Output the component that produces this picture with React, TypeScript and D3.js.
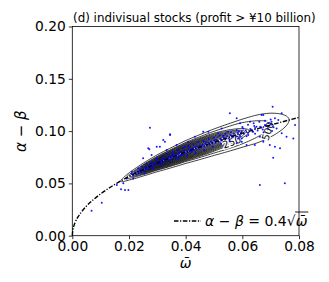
import React, { useEffect, useRef } from "react";
import * as d3 from "d3";

// axis ticks
const omegaTicks = [0, 0.02, 0.04, 0.06, 0.08];
const diffTicks = [0, 0.05, 0.1, 0.15, 0.2];

// fitted curve alpha - beta = 0.4 sqrt(omega)
const curveOmega = [0, 0.0002, 0.0005, 0.001, 0.002, 0.003, 0.005, 0.0075, 0.01, 0.015, 0.02, 0.025, 0.03, 0.04, 0.05, 0.06, 0.07, 0.08];
const curveDiff = [0, 0.0057, 0.0089, 0.0126, 0.0179, 0.0219, 0.0283, 0.0346, 0.04, 0.049, 0.0566, 0.0632, 0.0693, 0.08, 0.0894, 0.098, 0.1058, 0.1131];

// density contours: left tip, right tip, half width, position of widest point
const contourLevels = [250, 500, 750, 1000, 1250, 1500, 1750, 2000, 2250, 2500, 2750, 3000, 3250, 3500, 3750, 4000];
const contourStart = [0.017, 0.0188, 0.0202, 0.0212, 0.022, 0.0226, 0.0232, 0.0238, 0.0244, 0.025, 0.0257, 0.0264, 0.0272, 0.0281, 0.0292, 0.0305];
const contourEnd = [0.0765, 0.0705, 0.0625, 0.061, 0.0598, 0.0588, 0.0578, 0.0567, 0.0556, 0.0544, 0.053, 0.0515, 0.0498, 0.0478, 0.0455, 0.043];
const contourHalf = [0.0135, 0.0106, 0.0088, 0.008, 0.0073, 0.0066, 0.006, 0.0054, 0.0048, 0.0042, 0.0036, 0.003, 0.0025, 0.002, 0.0015, 0.001];
const contourPeak = [0.78, 0.72, 0.64, 0.63, 0.62, 0.61, 0.6, 0.6, 0.6, 0.59, 0.58, 0.57, 0.56, 0.55, 0.54, 0.52];

// inline contour labels
const labelText = ["250", "500"];
const labelOmega = [0.0563, 0.069];
const labelDiff = [0.0895, 0.1];
const labelAngle = [-20, -72];

// individual stocks (omega, alpha - beta)
const stocks: [number, number][] = [
  [0.0068, 0.0238], [0.0104, 0.0315], [0.0172, 0.0445], [0.0198, 0.0437], [0.0157, 0.0484],
  [0.018, 0.0501], [0.0186, 0.0437], [0.0192, 0.0548], [0.0215, 0.0548], [0.021, 0.0612],
  [0.0233, 0.0644], [0.025, 0.074], [0.0268, 0.0835], [0.028, 0.0771], [0.0272, 0.0826],
  [0.0298, 0.085], [0.0298, 0.074], [0.0309, 0.085], [0.0327, 0.0898], [0.0321, 0.0914],
  [0.0274, 0.1032], [0.0345, 0.0969], [0.0345, 0.0962], [0.0368, 0.0867], [0.0333, 0.0819],
  [0.0374, 0.0819], [0.0386, 0.0771], [0.0368, 0.074], [0.0398, 0.085], [0.0409, 0.0898],
  [0.0421, 0.0803], [0.0433, 0.0946], [0.045, 0.085], [0.0462, 0.0994], [0.0474, 0.0867],
  [0.048, 0.0994], [0.0503, 0.0914], [0.0515, 0.0979], [0.0527, 0.1026], [0.0539, 0.093],
  [0.055, 0.0994], [0.0556, 0.117], [0.0568, 0.0946], [0.058, 0.1122], [0.058, 0.0883],
  [0.0592, 0.1074], [0.0592, 0.0946], [0.0598, 0.0898], [0.0598, 0.093], [0.0603, 0.1026],
  [0.0615, 0.0867], [0.0621, 0.0962], [0.0627, 0.109], [0.0638, 0.0994], [0.0644, 0.0867],
  [0.065, 0.1042], [0.0662, 0.0946], [0.0662, 0.0484], [0.0668, 0.1153], [0.0674, 0.1153],
  [0.0674, 0.0898], [0.068, 0.1058], [0.0697, 0.0867], [0.0703, 0.109], [0.0707, 0.1233],
  [0.0709, 0.0745], [0.0715, 0.1122], [0.0715, 0.085], [0.0721, 0.1026], [0.0727, 0.1106],
  [0.0733, 0.0835], [0.0739, 0.117], [0.0739, 0.0979], [0.075, 0.0501], [0.0756, 0.0946],
  [0.078, 0.093], [0.0786, 0.1058],
  [0.021, 0.059], [0.0215, 0.0575], [0.0222, 0.0601], [0.0226, 0.0588], [0.0231, 0.0612],
  [0.0235, 0.0598], [0.024, 0.0627], [0.0243, 0.0609], [0.0248, 0.0634], [0.0252, 0.0621],
  [0.0256, 0.0648], [0.0259, 0.0632], [0.0263, 0.0655], [0.0267, 0.0641], [0.0271, 0.0668],
  [0.0274, 0.0652], [0.0278, 0.0675], [0.0282, 0.0661], [0.0286, 0.0689], [0.0289, 0.0672],
  [0.0293, 0.0697], [0.0297, 0.0681], [0.0301, 0.0706], [0.0305, 0.0688], [0.0309, 0.0712],
  [0.0312, 0.0699], [0.0316, 0.0725], [0.032, 0.0708], [0.0324, 0.0731], [0.0327, 0.0718],
  [0.0331, 0.0742], [0.0335, 0.0726], [0.0339, 0.0751], [0.0342, 0.0733], [0.0346, 0.0758],
  [0.035, 0.0741], [0.0354, 0.0766], [0.0358, 0.0749], [0.0362, 0.0772], [0.0366, 0.0757],
  [0.037, 0.0781], [0.0374, 0.0764], [0.0378, 0.079], [0.0382, 0.0772], [0.0386, 0.0796],
  [0.039, 0.0781], [0.0394, 0.0805], [0.0398, 0.0788], [0.0402, 0.0812], [0.0406, 0.0797],
  [0.041, 0.0822], [0.0414, 0.0804], [0.0418, 0.0829], [0.0422, 0.0811], [0.0426, 0.0838],
  [0.043, 0.082], [0.0434, 0.0845], [0.0438, 0.0828], [0.0442, 0.0852], [0.0446, 0.0836],
  [0.045, 0.0861], [0.0455, 0.0843], [0.046, 0.087], [0.0465, 0.0853], [0.047, 0.0879],
  [0.0475, 0.0862], [0.048, 0.089], [0.0485, 0.087], [0.049, 0.0897], [0.0495, 0.0881],
  [0.05, 0.0908], [0.0505, 0.0889], [0.051, 0.0915], [0.0516, 0.0899], [0.0522, 0.0928],
  [0.0528, 0.091], [0.0534, 0.0939], [0.054, 0.0921], [0.0546, 0.0951], [0.0552, 0.0932],
  [0.0558, 0.0962], [0.0564, 0.0944], [0.057, 0.0975], [0.0577, 0.0953], [0.0584, 0.0985],
  [0.0591, 0.0962], [0.0598, 0.0997], [0.0605, 0.0975], [0.0612, 0.1008], [0.062, 0.0984],
  [0.0628, 0.1019], [0.0636, 0.0995], [0.0645, 0.103], [0.0654, 0.1006], [0.0663, 0.1041],
  [0.0672, 0.1015], [0.0681, 0.1052], [0.069, 0.1028], [0.07, 0.1064], [0.071, 0.1038],
  [0.0245, 0.066], [0.0262, 0.069], [0.028, 0.0702], [0.0298, 0.0735], [0.0318, 0.076],
  [0.0336, 0.078], [0.0355, 0.08], [0.0372, 0.0822], [0.039, 0.0838], [0.0408, 0.086],
  [0.0428, 0.0875], [0.0445, 0.0893], [0.0462, 0.0905], [0.0482, 0.0925], [0.05, 0.094],
  [0.052, 0.0958], [0.054, 0.0975], [0.056, 0.0992], [0.058, 0.101], [0.06, 0.104],
  [0.062, 0.106], [0.064, 0.1075], [0.066, 0.109], [0.068, 0.11], [0.07, 0.1112],
  [0.0255, 0.0595], [0.0285, 0.064], [0.0315, 0.067], [0.0345, 0.0705], [0.0375, 0.0738],
  [0.0405, 0.0765], [0.0435, 0.079], [0.0465, 0.082], [0.0495, 0.085], [0.0525, 0.088],
  [0.0555, 0.0905], [0.0585, 0.093], [0.0615, 0.095], [0.0645, 0.0975], [0.0675, 0.099],
  [0.0705, 0.1],
  [0.0238, 0.0618], [0.0276, 0.0662], [0.0314, 0.0702], [0.0352, 0.0752], [0.0388, 0.0786],
  [0.0424, 0.0826], [0.0458, 0.0858], [0.0492, 0.0888], [0.0526, 0.0918], [0.0562, 0.0952],
  [0.0596, 0.0985], [0.0632, 0.1012], [0.0668, 0.1035], [0.0352, 0.0785], [0.0412, 0.0845],
  [0.0472, 0.0895], [0.0532, 0.0955], [0.0588, 0.0998], [0.0642, 0.1048], [0.0692, 0.1078],
];

const W = 329;
const H = 282;
const margin = { top: 26.5, right: 30, bottom: 46.3, left: 72.3 };
const font = "'DejaVu Sans', sans-serif";

export default function App() {
  const svgRef = useRef<SVGSVGElement>(null);

  useEffect(() => {
    const svg = d3.select(svgRef.current);
    svg.selectAll("*").remove();

    const x = d3.scaleLinear().domain([0, 0.08]).range([margin.left, W - margin.right]);
    const y = d3.scaleLinear().domain([0, 0.2]).range([H - margin.bottom, margin.top]);
    const centerAt = d3.scaleLinear().domain(curveOmega).range(curveDiff);

    svg.append("rect").attr("width", W).attr("height", H).attr("fill", "white");

    const plot = svg.append("g");

    // contour rings
    const ring = d3
      .line<[number, number]>()
      .x((d) => x(d[0]))
      .y((d) => y(d[1]))
      .curve(d3.curveLinearClosed);

    contourLevels.forEach((_, i) => {
      const a = contourStart[i];
      const b = contourEnd[i];
      const tp = contourPeak[i];
      const upper: [number, number][] = [];
      const lower: [number, number][] = [];
      d3.range(0, 81).forEach((j) => {
        const t = (1 - Math.cos((Math.PI * j) / 80)) / 2;
        const w = a + t * (b - a);
        const h =
          t < tp
            ? contourHalf[i] * Math.pow(Math.sin((Math.PI / 2) * (t / tp)), 0.6)
            : contourHalf[i] * Math.sqrt(Math.max(0, Math.cos((Math.PI / 2) * ((t - tp) / (1 - tp)))));
        upper.push([w, centerAt(w) + h]);
        lower.push([w, centerAt(w) - h]);
      });
      plot
        .append("path")
        .attr("d", ring(upper.concat(lower.reverse())))
        .attr("fill", "none")
        .attr("stroke", "#000")
        .attr("stroke-width", 0.75);
    });

    // contour labels
    labelText.forEach((t, i) => {
      plot
        .append("text")
        .attr("transform", `translate(${x(labelOmega[i])},${y(labelDiff[i])}) rotate(${labelAngle[i]})`)
        .attr("text-anchor", "middle")
        .attr("dy", "0.35em")
        .attr("font-family", font)
        .attr("font-size", 10)
        .attr("stroke", "white")
        .attr("stroke-width", 2.5)
        .attr("paint-order", "stroke")
        .text(t);
    });

    // scatter
    plot
      .append("g")
      .selectAll("circle")
      .data(stocks)
      .enter()
      .append("circle")
      .attr("cx", (d) => x(d[0]))
      .attr("cy", (d) => y(d[1]))
      .attr("r", 1)
      .attr("fill", "#0000ff")
      .attr("opacity", 0.9);

    // fitted curve
    const curvePts = curveOmega.map((w, i) => [w, curveDiff[i]] as [number, number]);
    const curveLine = d3
      .line<[number, number]>()
      .x((d) => x(d[0]))
      .y((d) => y(d[1]))
      .curve(d3.curveMonotoneX);
    plot
      .append("path")
      .attr("d", curveLine(curvePts))
      .attr("fill", "none")
      .attr("stroke", "#000")
      .attr("stroke-width", 1.4)
      .attr("stroke-dasharray", "4.5,1.6,1.2,1.6");

    // axes
    const xAxis = svg
      .append("g")
      .attr("transform", `translate(0,${H - margin.bottom})`)
      .call(d3.axisBottom(x).tickValues(omegaTicks).tickFormat(d3.format(".2f")).tickSizeOuter(0).tickSize(3.5).tickPadding(2));
    const yAxis = svg
      .append("g")
      .attr("transform", `translate(${margin.left},0)`)
      .call(d3.axisLeft(y).tickValues(diffTicks).tickFormat(d3.format(".2f")).tickSizeOuter(0).tickSize(3.5).tickPadding(3));
    [xAxis, yAxis].forEach((g) => {
      g.select(".domain").remove();
      g.selectAll("text").attr("font-family", font).attr("font-size", 13.8).attr("fill", "#000");
      g.selectAll("line").attr("stroke", "#000").attr("stroke-width", 0.8);
    });

    // frame
    svg
      .append("rect")
      .attr("x", margin.left)
      .attr("y", margin.top)
      .attr("width", W - margin.right - margin.left)
      .attr("height", H - margin.bottom - margin.top)
      .attr("fill", "none")
      .attr("stroke", "#000")
      .attr("stroke-width", 0.8);

    // title
    svg
      .append("text")
      .attr("x", 73)
      .attr("y", 22)
      .attr("font-family", font)
      .attr("font-size", 11.9)
      .text("(d) indivisual stocks (profit > ¥10 billion)");

    // axis labels
    svg
      .append("text")
      .attr("x", (margin.left + W - margin.right) / 2)
      .attr("y", 268)
      .attr("text-anchor", "middle")
      .attr("font-family", font)
      .attr("font-style", "italic")
      .attr("font-size", 14)
      .text("ω\u0304");

    const yl = svg
      .append("text")
      .attr("transform", `translate(26,${(margin.top + H - margin.bottom) / 2}) rotate(-90)`)
      .attr("text-anchor", "middle")
      .attr("font-family", font)
      .attr("font-size", 15);
    yl.append("tspan").attr("font-style", "italic").text("α");
    yl.append("tspan").text(" − ");
    yl.append("tspan").attr("font-style", "italic").text("β");

    // legend
    const ly = 221;
    svg
      .append("line")
      .attr("x1", 174)
      .attr("x2", 201)
      .attr("y1", ly)
      .attr("y2", ly)
      .attr("stroke", "#000")
      .attr("stroke-width", 1.4)
      .attr("stroke-dasharray", "4.5,1.6,1.2,1.6");

    const lt = svg
      .append("text")
      .attr("x", 205)
      .attr("y", ly + 5)
      .attr("font-family", font)
      .attr("font-size", 14);
    lt.append("tspan").attr("font-style", "italic").text("α");
    lt.append("tspan").text(" − ");
    lt.append("tspan").attr("font-style", "italic").text("β");
    lt.append("tspan").text(" = 0.4");
    const tw = (lt.node() as SVGTextElement).getComputedTextLength();
    const rad = svg
      .append("text")
      .attr("x", 205 + tw)
      .attr("y", ly + 5)
      .attr("font-family", font)
      .attr("font-size", 14)
      .text("√");
    const rw = (rad.node() as SVGTextElement).getComputedTextLength();
    const om = svg
      .append("text")
      .attr("x", 205 + tw + rw)
      .attr("y", ly + 5)
      .attr("font-family", font)
      .attr("font-style", "italic")
      .attr("font-size", 14)
      .text("ω\u0304");
    const ow = (om.node() as SVGTextElement).getComputedTextLength();
    svg
      .append("line")
      .attr("x1", 205 + tw + rw - 0.5)
      .attr("x2", 205 + tw + rw + ow + 1)
      .attr("y1", ly - 9)
      .attr("y2", ly - 9)
      .attr("stroke", "#000")
      .attr("stroke-width", 0.9);
  }, []);

  return (
    <div style={{ position: "absolute", left: 0, top: 0 }}>
      <svg ref={svgRef} width={W} height={H} style={{ display: "block" }} />
    </div>
  );
}
